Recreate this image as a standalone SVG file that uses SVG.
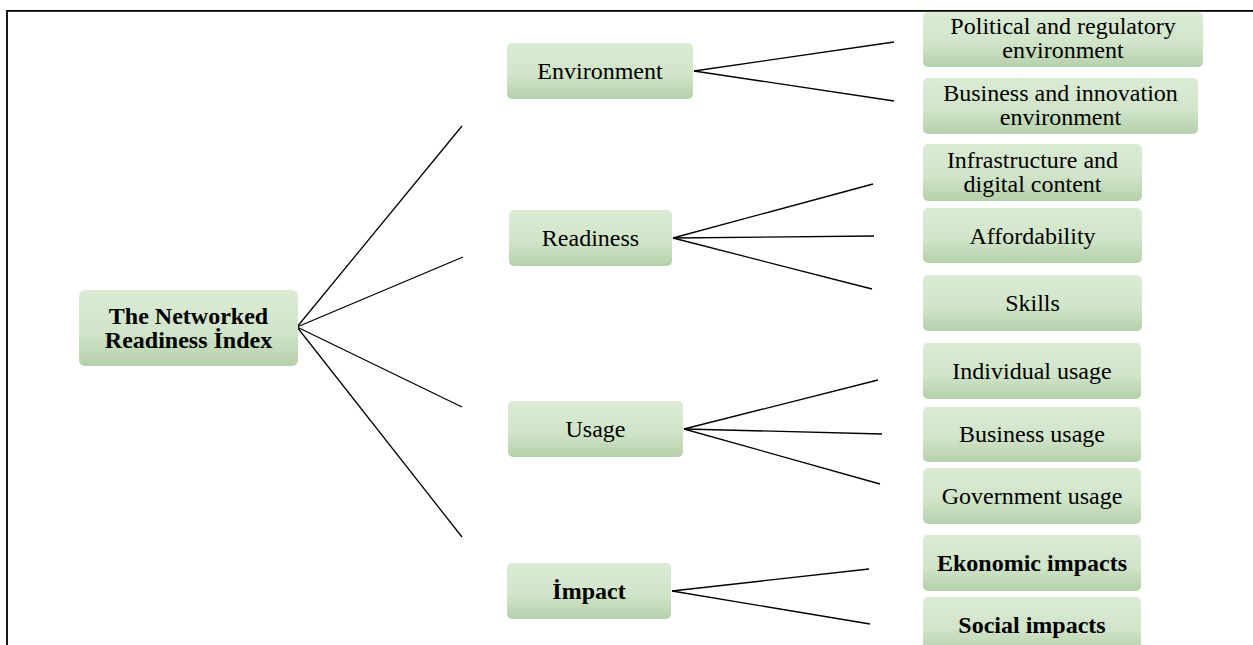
<svg xmlns="http://www.w3.org/2000/svg" width="1253" height="645" viewBox="0 0 1253 645">
<defs>
<linearGradient id="g" x1="0" y1="0" x2="0" y2="1">
<stop offset="0" stop-color="#dbebd5"/>
<stop offset="0.55" stop-color="#d1e5ca"/>
<stop offset="1" stop-color="#b6d0ab"/>
</linearGradient>
<style>
.b{fill:url(#g);}
.t{font-family:"Liberation Serif","Times New Roman",serif;font-size:24px;fill:#000;text-anchor:middle;}
.bd{font-weight:bold;}
.c line{stroke:#000;stroke-width:1.3;}
</style>
</defs>
<rect width="1253" height="645" fill="#fff"/>
<path d="M7,645 V10.8 H1253" fill="none" stroke="#000" stroke-width="1.8"/>
<g class="c">
<line x1="297" y1="327" x2="462" y2="126"/>
<line x1="297" y1="327" x2="463" y2="257"/>
<line x1="297" y1="327" x2="462" y2="407"/>
<line x1="297" y1="327" x2="462" y2="537"/>
<line x1="694" y1="71" x2="894" y2="42"/>
<line x1="694" y1="71" x2="894" y2="101"/>
<line x1="673" y1="238" x2="873" y2="184"/>
<line x1="673" y1="238" x2="874" y2="236"/>
<line x1="673" y1="238" x2="872" y2="289"/>
<line x1="684" y1="429" x2="878" y2="380"/>
<line x1="684" y1="429" x2="882" y2="434"/>
<line x1="684" y1="429" x2="880" y2="484"/>
<line x1="672" y1="591" x2="869" y2="569"/>
<line x1="672" y1="591" x2="870" y2="624"/>
</g>
<g id="root"><rect class="b" x="79" y="290" width="219" height="76" rx="6"/><text class="t bd" x="188.5" y="324">The Networked</text><text class="t bd" x="188.5" y="348">Readiness İndex</text></g>
<g id="environment"><rect class="b" x="507" y="43" width="186" height="56" rx="5"/><text class="t" x="600" y="79">Environment</text></g>
<g id="readiness"><rect class="b" x="509" y="210" width="163" height="56" rx="5"/><text class="t" x="590.5" y="246">Readiness</text></g>
<g id="usage"><rect class="b" x="508" y="401" width="175" height="56" rx="5"/><text class="t" x="595.5" y="437">Usage</text></g>
<g id="impact"><rect class="b" x="507" y="563" width="164" height="56" rx="5"/><text class="t bd" x="589" y="599">İmpact</text></g>
<g id="political"><rect class="b" x="923" y="12" width="280" height="55" rx="5"/><text class="t" x="1063" y="34">Political and regulatory</text><text class="t" x="1063" y="58">environment</text></g>
<g id="business-env"><rect class="b" x="923" y="78" width="275" height="56" rx="5"/><text class="t" x="1060.5" y="101">Business and innovation</text><text class="t" x="1060.5" y="125">environment</text></g>
<g id="infrastructure"><rect class="b" x="923" y="144" width="219" height="57" rx="5"/><text class="t" x="1032.5" y="168">Infrastructure and</text><text class="t" x="1032.5" y="192">digital content</text></g>
<g id="affordability"><rect class="b" x="923" y="208" width="219" height="55" rx="5"/><text class="t" x="1032.5" y="244">Affordability</text></g>
<g id="skills"><rect class="b" x="923" y="275" width="219" height="56" rx="5"/><text class="t" x="1032.5" y="311">Skills</text></g>
<g id="individual"><rect class="b" x="923" y="343" width="218" height="56" rx="5"/><text class="t" x="1032" y="379">Individual usage</text></g>
<g id="business-usage"><rect class="b" x="923" y="407" width="218" height="55" rx="5"/><text class="t" x="1032" y="442">Business usage</text></g>
<g id="government"><rect class="b" x="923" y="468" width="218" height="56" rx="5"/><text class="t" x="1032" y="504">Government usage</text></g>
<g id="ekonomic"><rect class="b" x="923" y="535" width="218" height="56" rx="5"/><text class="t bd" x="1032" y="571">Ekonomic impacts</text></g>
<g id="social"><rect class="b" x="923" y="597" width="218" height="56" rx="5"/><text class="t bd" x="1032" y="633">Social impacts</text></g>
</svg>
